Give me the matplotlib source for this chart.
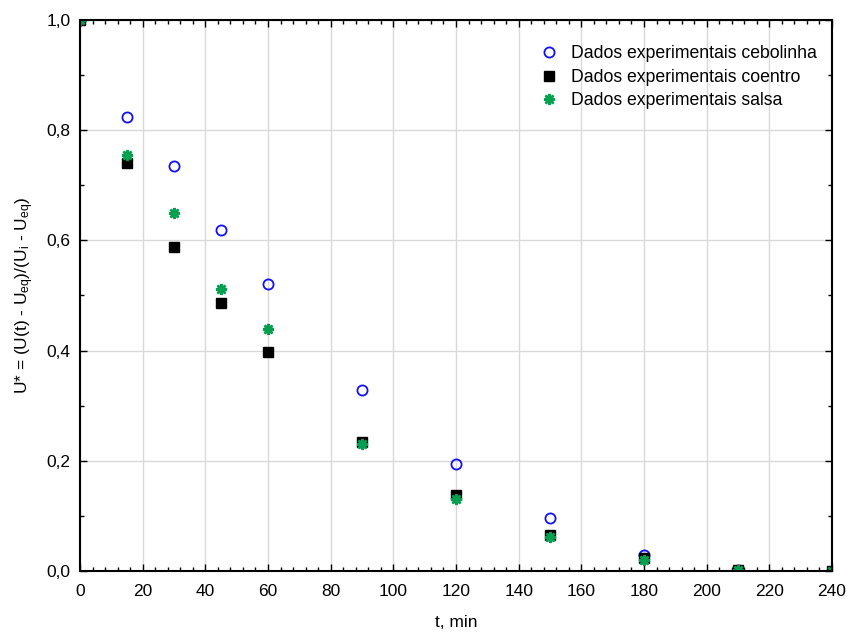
import matplotlib
matplotlib.use("Agg")
import matplotlib.pyplot as plt
from matplotlib.ticker import MultipleLocator, FuncFormatter

plt.rcParams['font.family'] = ['Liberation Sans', 'DejaVu Sans']
plt.rcParams['mathtext.fontset'] = 'custom'
plt.rcParams['mathtext.rm'] = 'Liberation Sans'
plt.rcParams['mathtext.it'] = 'Liberation Sans:italic'

t = [0, 15, 30, 45, 60, 90, 120, 150, 180, 210, 240]
cebolinha = [1.0, 0.824, 0.735, 0.619, 0.521, 0.328, 0.194, 0.096, 0.029, 0.002, 0.0]
coentro = [1.0, 0.740, 0.588, 0.486, 0.397, 0.234, 0.138, 0.065, 0.024, 0.001, 0.0]
salsa = [1.0, 0.755, 0.650, 0.512, 0.439, 0.230, 0.131, 0.062, 0.020, 0.001, 0.0]

labels = ["Dados experimentais cebolinha", "Dados experimentais coentro",
          "Dados experimentais salsa"]

fig = plt.figure(figsize=(8.48, 6.32), dpi=100)
ax = fig.add_axes([80/848, 61/632, 752/848, 551/632])

ax.plot(t, cebolinha, linestyle='none', marker='o', markersize=7.3,
        markerfacecolor='none', markeredgecolor='#1010ff', markeredgewidth=1.3,
        label=labels[0])
ax.plot(t, coentro, linestyle='none', marker='s', markersize=7,
        markerfacecolor='black', markeredgecolor='black', label=labels[1])
ax.plot(t, salsa, linestyle='none', marker=(8, 2, 0), markersize=8,
        markeredgecolor='#00a050', markeredgewidth=1.8, label=labels[2])

ax.set_xlim(0, 240)
ax.set_ylim(0, 1.0)
ax.xaxis.set_major_locator(MultipleLocator(20))
ax.xaxis.set_minor_locator(MultipleLocator(4))
ax.yaxis.set_major_locator(MultipleLocator(0.2))
ax.yaxis.set_minor_locator(MultipleLocator(0.1))
ax.yaxis.set_major_formatter(FuncFormatter(lambda v, p: f"{v:.1f}".replace('.', ',')))

ax.grid(True, which='major', color='#d9d9d9', linewidth=1.0)
ax.set_axisbelow(True)
ax.tick_params(which='both', direction='in', top=True, right=True,
               labelsize=12.5, colors='black')
ax.tick_params(which='major', length=5, width=1)
ax.tick_params(which='minor', length=3, width=1)
ax.tick_params(axis='x', which='major', pad=9)
ax.tick_params(axis='y', which='major', pad=7)
for s in ax.spines.values():
    s.set_linewidth(1.5)

ax.set_xlabel("t, min", fontsize=12.5, labelpad=12)
ax.set_ylabel(r"U* = (U(t) - U$_\mathregular{eq}$)/(U$_\mathregular{i}$ - U$_\mathregular{eq}$)",
              fontsize=12.5, labelpad=7)

ax.legend(loc='upper right', bbox_to_anchor=(0.996, 0.977), frameon=False,
          fontsize=12.7, handletextpad=0.66, labelspacing=0.38, borderaxespad=0.3,
          handlelength=1.2)

fig.savefig("out.png", dpi=100)
